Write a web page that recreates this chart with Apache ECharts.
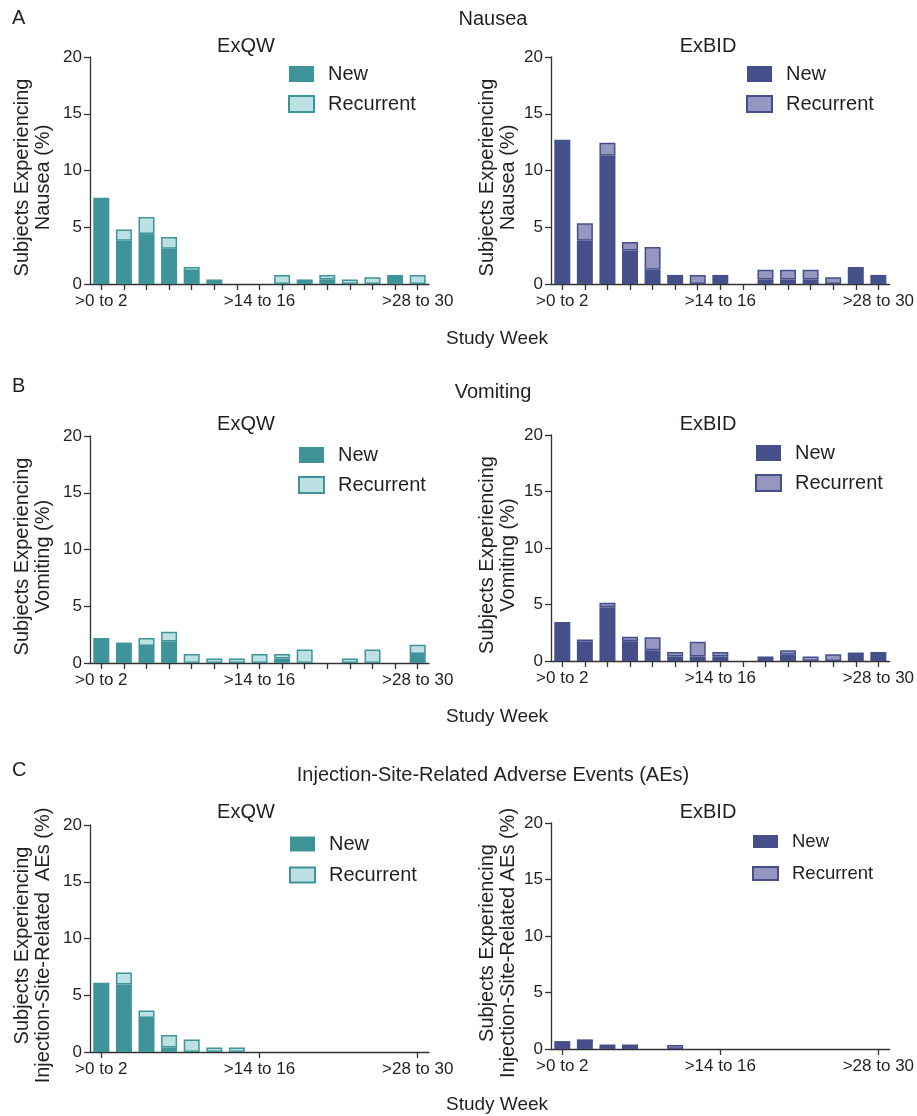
<!DOCTYPE html>
<html><head><meta charset="utf-8">
<script src="https://cdn.jsdelivr.net/npm/echarts@6/dist/echarts.min.js"></script>
<style>html,body{margin:0;padding:0;background:#fff}#c{width:917px;height:1116px}</style>
</head><body><div id="c"></div>
<script>
// ---- data ----
const weekLabels = ['>0 to 2','>2 to 4','>4 to 6','>6 to 8','>8 to 10','>10 to 12','>12 to 14','>14 to 16','>16 to 18','>18 to 20','>20 to 22','>22 to 24','>24 to 26','>26 to 28','>28 to 30'];
const yTicks = [0, 5, 10, 15, 20];

const nauseaQwNew = [7.6, 3.8, 4.4, 3.1, 1.15, 0.4, 0, 0, 0, 0.4, 0.4, 0, 0, 0.8, 0];
const nauseaQwRec = [0, 1.0, 1.5, 1.05, 0.35, 0, 0, 0, 0.8, 0, 0.4, 0.4, 0.6, 0, 0.8];
const nauseaBidNew = [12.7, 3.8, 11.3, 2.95, 1.25, 0.8, 0, 0.8, 0, 0.4, 0.4, 0.4, 0, 1.5, 0.8];
const nauseaBidRec = [0, 1.55, 1.15, 0.75, 2.0, 0, 0.8, 0, 0, 0.85, 0.85, 0.85, 0.6, 0, 0];

const vomitQwNew = [2.2, 1.8, 1.5, 1.9, 0, 0, 0, 0, 0.4, 0, 0, 0, 0, 0, 0.8];
const vomitQwRec = [0, 0, 0.7, 0.85, 0.8, 0.4, 0.4, 0.8, 0.4, 1.2, 0, 0.4, 1.2, 0, 0.8];
const vomitBidNew = [3.45, 1.6, 4.75, 1.75, 0.95, 0.4, 0.4, 0.4, 0, 0.4, 0.55, 0, 0, 0.75, 0.8];
const vomitBidRec = [0, 0.3, 0.4, 0.4, 1.15, 0.4, 1.3, 0.4, 0, 0, 0.4, 0.4, 0.6, 0, 0];

const injQwNew = [6.1, 5.95, 3.0, 0.4, 0, 0, 0, 0, 0, 0, 0, 0, 0, 0, 0];
const injQwRec = [0, 1.05, 0.65, 1.1, 1.1, 0.4, 0.4, 0, 0, 0, 0, 0, 0, 0, 0];
const injBidNew = [0.7, 0.85, 0.4, 0.4, 0, 0, 0, 0, 0, 0, 0, 0, 0, 0, 0];
const injBidRec = [0, 0, 0, 0, 0, 0.35, 0, 0, 0, 0, 0, 0, 0, 0, 0];

// ---- styles ----
const FONT = 'Liberation Sans, Arial, Helvetica, sans-serif';
const TXT = '#231f20';
const AX = '#333333';
const qw = {dark:'#3E9499', light:'#BDE0E3'};
const bid = {dark:'#45508A', light:'#9597C0'};

const panels = [
  {id:'A1', grid:{left:90, top:57, width:339, height:227}, nv:nauseaQwNew, rv:nauseaQwRec, pal:qw,
   lg:{left:288, top:64, h:16, gap:10, fs:20}, yName:'Subjects Experiencing\nNausea (%)', allTicks:true, gap:36},
  {id:'A2', grid:{left:551, top:57, width:340, height:227}, nv:nauseaBidNew, rv:nauseaBidRec, pal:bid,
   lg:{left:746, top:64, h:16, gap:10, fs:20}, yName:'Subjects Experiencing\nNausea (%)', allTicks:true, gap:32},
  {id:'B1', grid:{left:90, top:436, width:339, height:227}, nv:vomitQwNew, rv:vomitQwRec, pal:qw,
   lg:{left:298, top:445, h:16, gap:10, fs:20}, yName:'Subjects Experiencing\nVomiting (%)', allTicks:true, gap:36},
  {id:'B2', grid:{left:551, top:435, width:340, height:226}, nv:vomitBidNew, rv:vomitBidRec, pal:bid,
   lg:{left:755, top:443, h:16, gap:10, fs:20}, yName:'Subjects Experiencing\nVomiting (%)', allTicks:true, gap:32},
  {id:'C1', grid:{left:90, top:825, width:339, height:227}, nv:injQwNew, rv:injQwRec, pal:qw,
   lg:{left:289, top:834, h:15, gap:11, fs:20}, yName:'Subjects Experiencing\nInjection-Site-Related  AEs (%)', allTicks:false, gap:36},
  {id:'C2', grid:{left:551, top:823, width:340, height:226}, nv:injBidNew, rv:injBidRec, pal:bid,
   lg:{left:752, top:832, h:13, gap:13, fs:18.5}, yName:'Subjects Experiencing\nInjection-Site-Related AEs (%)', allTicks:false, gap:32}
];

const grid = [], xAxis = [], yAxis = [], series = [], legend = [];
panels.forEach((p, i) => {
  grid.push(Object.assign({containLabel:false}, p.grid));
  xAxis.push({
    type:'category', gridIndex:i, data:weekLabels, boundaryGap:true,
    axisLine:{show:true, lineStyle:{color:AX, width:1.3}},
    axisTick:{show:true, alignWithLabel:true, interval:p.allTicks ? 0 : 6, length:6, lineStyle:{color:AX, width:1.3}},
    axisLabel:{interval:6, margin:9, fontSize:17, color:TXT, fontFamily:FONT},
    splitLine:{show:false}
  });
  yAxis.push({
    type:'value', gridIndex:i, min:yTicks[0], max:yTicks[yTicks.length-1], interval:yTicks[1]-yTicks[0],
    axisLine:{show:true, lineStyle:{color:AX, width:1.3}},
    axisTick:{show:true, length:6, lineStyle:{color:AX, width:1.3}},
    axisLabel:{margin:8, fontSize:17, color:TXT, fontFamily:FONT},
    splitLine:{show:false},
    name:p.yName, nameLocation:'middle', nameGap:p.gap,
    nameTextStyle:{fontSize:20, lineHeight:21, color:TXT, fontFamily:FONT, padding:[0,14,0,0]}
  });
  const nName = p.id + ' New', rName = p.id + ' Recurrent';
  series.push({
    name:nName, type:'bar', xAxisIndex:i, yAxisIndex:i, stack:p.id, barWidth:16,
    itemStyle:{color:p.pal.dark, borderColor:p.pal.dark, borderWidth:0},
    data:p.nv.map(v => v === 0 ? '-' : v), animation:false
  });
  series.push({
    name:rName, type:'bar', xAxisIndex:i, yAxisIndex:i, stack:p.id, barWidth:16,
    itemStyle:{color:p.pal.light, borderColor:p.pal.dark, borderWidth:1.5},
    data:p.rv.map(v => v === 0 ? '-' : v), animation:false
  });
  legend.push({
    data:[nName, rName], orient:'vertical', left:p.lg.left, top:p.lg.top, padding:0,
    icon:'rect', itemWidth:25, itemHeight:p.lg.h, itemGap:p.lg.gap, selectedMode:false,
    formatter: n => n.split(' ')[1],
    textStyle:{fontSize:p.lg.fs, lineHeight:p.lg.h, color:TXT, fontFamily:FONT, padding:[0,0,0,9]}
  });
});

const sectionTitles = [
  {letter:'A', ly:18, title:'Nausea', ty:19, sy:46, wy:339},
  {letter:'B', ly:386, title:'Vomiting', ty:392, sy:424, wy:717},
  {letter:'C', ly:770, title:'Injection-Site-Related Adverse Events (AEs)', ty:775, sy:812, wy:1105}
];
const graphic = [];
function txt(x, y, s, fs, align) {
  graphic.push({type:'text', x:x, y:y, silent:true,
    style:{text:s, align:align || 'center', verticalAlign:'middle', fontSize:fs, fontFamily:FONT, fill:TXT}});
}
sectionTitles.forEach(s => {
  txt(12, s.ly, s.letter, 20, 'left');
  txt(493, s.ty, s.title, 20);
  txt(246, s.sy, 'ExQW', 20);
  txt(708, s.sy, 'ExBID', 20);
  txt(497, s.wy, 'Study Week', 19);
});

const chart = echarts.init(document.getElementById('c'), null, {renderer:'canvas'});
chart.setOption({backgroundColor:'#ffffff', animation:false, grid, xAxis, yAxis, series, legend, graphic});
</script>
</body></html>
